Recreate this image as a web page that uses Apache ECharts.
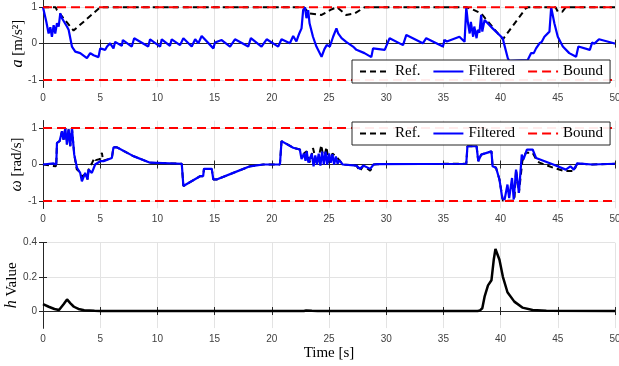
<!DOCTYPE html>
<html><head><meta charset="utf-8">
<script src="https://cdn.jsdelivr.net/npm/echarts@6/dist/echarts.min.js"></script>
<style>html,body{margin:0;padding:0;background:#fff}#c{width:619px;height:366px}</style>
</head><body><div id="c"></div>
<script>
// ---- data ----
const xTicks = [0,5,10,15,20,25,30,35,40,45,50];
const aTicks = [-1,0,1];
const wTicks = [-1,0,1];
const hTicks = [0,0.2,0.4];
const bounds = [1,-1];

const aFiltT = [0,0.29,0.49,0.64,0.78,0.93,1.07,1.22,1.37,1.51,1.66,2.09,2.24,2.53,2.82,3.25,3.84,3.98,4.13,4.42,4.85,5.0,5.44,5.6,5.73,5.87,6.16,6.31,6.89,6.98,7.76,7.97,9.2,9.36,10.24,10.38,11.1,11.25,11.98,12.27,13.0,13.3,13.58,13.87,14.89,15.03,15.2,15.62,16.35,16.78,17.94,18.17,19.1,19.55,20.56,20.85,21.58,21.87,22.15,22.4,22.6,22.74,22.9,23.03,23.18,23.3,23.6,23.9,24.35,24.6,24.8,25.07,25.36,25.65,25.8,25.94,26.1,26.5,27.1,27.4,27.55,28.1,28.7,28.85,29.87,30.3,31.47,31.76,33.2,33.5,34.96,35.1,35.3,36.4,36.85,37.0,37.15,37.3,37.4,37.6,37.7,37.9,38.0,38.15,38.3,38.4,38.6,39.3,40.19,40.3,40.63,40.75,42.37,42.67,42.9,43.1,43.25,43.4,43.6,43.83,44.0,44.27,44.42,44.7,45.0,45.44,46.0,46.6,46.8,47.8,48.0,48.2,48.6,49.9,50];
const aFiltV = [1.0,0.6,0.28,0.45,0.19,0.51,0.28,0.56,0.47,0.83,0.7,0.47,0.38,-0.08,-0.22,-0.26,-0.4,-0.44,-0.26,-0.32,-0.37,-0.13,-0.17,-0.08,-0.13,0.01,-0.13,0.05,-0.06,0.1,-0.08,0.15,-0.08,0.12,-0.08,0.12,-0.06,0.12,-0.04,0.15,-0.08,0.12,0.01,0.21,-0.13,0.03,-0.02,0.1,-0.08,0.12,-0.08,0.15,-0.08,0.12,-0.08,0.12,0.01,0.21,0.06,0.28,0.42,0.92,1.0,0.7,0.92,0.56,0.19,-0.08,-0.36,-0.15,-0.04,-0.08,0.19,0.42,0.28,0.33,0.15,0.05,-0.08,-0.17,-0.13,-0.26,-0.37,-0.13,-0.17,0.15,-0.04,0.24,0.01,0.15,-0.08,0.1,0.06,0.19,0.05,1.0,0.56,0.28,0.6,0.19,0.47,0.15,0.38,0.3,0.79,0.33,0.65,0.42,0.15,0.0,-0.4,-0.47,-0.45,-0.26,-0.26,-0.13,-0.16,0.01,0.05,0.19,0.19,0.33,1.0,0.56,0.19,-0.08,-0.26,-0.36,-0.08,-0.17,0.03,0.0,0.12,0.01,0.0];

const aRefT = [0,1.1,1.22,2.67,5.0,22.8,23.3,24.35,25.2,25.7,26.5,27.25,28.1,37.0,37.5,38.3,40.2,42.2,42.4,44.8,45.0,45.4,45.7,50];
const aRefV = [1,1,0.92,0.36,1.0,1.0,0.83,0.79,0.94,1.0,0.79,0.83,1.0,1.0,0.95,0.83,0.12,0.97,1.0,1.0,0.88,0.88,1.0,1.0];

const wFiltT = [0,0.93,1.16,1.22,1.45,1.66,1.8,1.95,2.09,2.24,2.38,2.53,2.73,2.97,3.25,3.4,3.69,3.9,3.98,4.27,4.56,5.0,5.29,6.02,6.16,6.45,7.9,9.36,12.13,12.27,13.73,14.0,14.07,14.75,14.89,15.18,16.63,18.09,19.25,20.71,20.85,21.87,22.45,22.6,22.8,22.95,23.05,23.2,23.35,23.5,23.65,23.8,23.95,24.1,24.25,24.4,24.55,24.7,24.85,25.0,25.15,25.3,25.45,25.6,25.75,25.9,26.2,27.4,27.7,28.0,28.6,28.9,29.2,37.0,37.1,37.9,38.05,38.3,39.2,39.3,39.6,39.9,40.15,40.35,40.6,40.75,41.0,41.15,41.35,41.6,41.85,42.0,42.3,42.8,43.1,44.6,45.7,46.1,46.4,46.7,48.0,50];
const wFiltV = [0,0.03,0,0.59,0.64,0.91,0.68,1.0,0.55,0.96,0.5,1.0,0.27,-0.09,-0.23,-0.46,-0.23,-0.41,-0.14,-0.23,0,0.09,0.09,0.18,0.47,0.47,0.23,0.05,0.02,-0.59,-0.32,-0.32,-0.12,-0.12,-0.41,-0.41,-0.23,-0.05,0,0,0.64,0.46,0.41,0.15,0.3,0.1,0.36,0.05,0.0,0.3,-0.05,0.25,0.0,0.3,-0.03,0.35,0.0,0.35,0.0,0.3,0.05,0.28,0.0,0.22,0.02,0.12,0.0,-0.03,-0.12,-0.03,-0.12,0.0,0.01,0.02,0.5,0.5,0.09,0.27,0.36,-0.05,-0.09,-0.41,-0.93,-0.96,-0.55,-0.92,-0.37,-0.96,-0.14,-0.78,0.27,0.14,0.41,0.41,0.18,0.0,-0.14,-0.05,-0.14,0.03,0.0,0.02];

const wRefT = [0,1.12,1.14,1.16,1.22,1.45,1.66,1.8,1.95,2.09,2.24,2.38,2.53,2.73,2.95,3.2,3.4,3.69,3.9,3.98,4.3,4.5,4.6,5.0,5.15,5.25,6.02,6.16,6.45,7.9,9.36,12.13,12.27,13.73,14.0,14.07,14.75,14.89,15.18,16.63,18.09,19.25,20.71,20.85,21.87,22.45,22.8,23.05,23.35,23.6,23.95,24.33,24.55,24.77,25.0,25.3,25.6,25.9,26.2,27.4,27.7,28.0,28.6,28.9,29.2,37.0,37.1,37.9,38.05,38.3,39.2,39.3,39.6,39.9,40.2,41.2,41.35,41.6,41.9,42.2,42.8,43.2,43.4,44.6,45.6,46.4,46.7,48.0,50];
const wRefV = [0,-0.05,0.06,0,0.59,0.64,0.91,0.68,1.0,0.55,0.96,0.5,1.0,0.27,-0.13,-0.2,-0.35,-0.23,-0.41,-0.14,0.05,0.18,0.12,0.15,0.32,0.1,0.18,0.47,0.47,0.23,0.05,0.02,-0.59,-0.32,-0.32,-0.12,-0.12,-0.41,-0.41,-0.23,-0.05,0,0,0.64,0.46,0.41,0.3,0.36,0.05,0.45,0.0,0.53,0.1,0.48,0.05,0.3,0.22,0.12,0.0,-0.03,-0.18,-0.03,-0.17,0.0,0.01,0.02,0.5,0.5,0.09,0.27,0.36,-0.05,-0.09,-0.41,-0.99,-0.99,-0.14,-0.78,0.09,0.32,0.32,0.09,0.05,-0.09,-0.18,-0.18,0.03,0.0,0.02];

const hT = [0,0.5,1.0,1.4,1.8,2.1,2.4,2.7,3.1,3.6,4.5,5.0,22.8,23.0,23.5,24.0,38.0,38.2,38.4,38.6,38.9,39.2,39.4,39.55,39.9,40.2,40.6,41.2,41.9,42.8,44.0,50];
const hV = [0.041,0.025,0.012,0.006,0.04,0.068,0.045,0.025,0.012,0.005,0.001,0,0,0.003,0.001,0,0,0.004,0.016,0.084,0.15,0.18,0.3,0.363,0.3,0.2,0.11,0.055,0.02,0.006,0.001,0];

// ---- helpers ----
const zip = (t, v) => t.map((x, i) => [x, v[i]]);
const SERIF = '"Liberation Serif","Times New Roman",serif';
const SANS = '"Liberation Sans",Arial,sans-serif';
const gBase = {left: 43, right: 4, containLabel: false, outerBoundsMode: 'none'};
const grids = [
  Object.assign({top: 0, height: 87.3}, gBase),
  Object.assign({top: 120.7, height: 87.6}, gBase),
  Object.assign({top: 242.7, height: 85.4}, gBase)
];
const axLine = {show: true, lineStyle: {color: '#262626', width: 1}};
const tick = {show: true, inside: true, length: 4, lineStyle: {color: '#262626'}};
const split = {show: true, lineStyle: {color: '#e3e3e3', width: 1}};
const lbl = {color: '#404040', fontFamily: SANS, fontSize: 10};

const xAxis = [], yAxis = [];
const yRanges = [[-1.2, 1.2, aTicks], [-1.2, 1.2, wTicks], [-0.1, 0.4, hTicks]];
const yNames = ['{i|a} [m/s²]', '{i|ω} [rad/s]', '{i|h} Value'];
const yNameGaps = [17, 18, 23];
for (let g = 0; g < 3; g++) {
  xAxis.push({type: 'value', gridIndex: g, min: 0, max: 50, interval: 5, position: 'bottom',
    axisLine: axLine, axisTick: tick, splitLine: split,
    axisLabel: Object.assign({margin: 6, formatter: v => String(v)}, lbl),
    name: g === 2 ? 'Time [s]' : '', nameLocation: 'middle', nameGap: 17, nameMoveOverlap: false,
    nameTextStyle: {fontFamily: SERIF, fontSize: 15, color: '#000'}});
  xAxis.push({type: 'value', gridIndex: g, min: 0, max: 50, interval: 5, position: 'top',
    axisLine: axLine, axisTick: tick, splitLine: {show: false}, axisLabel: {show: false}});
  const [mn, mx, tk] = yRanges[g];
  yAxis.push({type: 'value', gridIndex: g, min: mn, max: mx, position: 'left',
    axisLine: axLine, axisTick: Object.assign({customValues: tk}, tick), splitLine: split,
    axisLabel: Object.assign({customValues: tk, margin: 6, formatter: v => String(v)}, lbl),
    name: yNames[g], nameLocation: 'middle', nameGap: yNameGaps[g], nameMoveOverlap: false,
    nameTextStyle: {fontFamily: SERIF, fontSize: 15, color: '#000',
      rich: {i: {fontFamily: SERIF, fontSize: 16, fontStyle: 'italic', color: '#000'}}}});
  yAxis.push({type: 'value', gridIndex: g, min: mn, max: mx, position: 'right',
    axisLine: axLine, axisTick: Object.assign({customValues: tk}, tick),
    splitLine: {show: false}, axisLabel: {show: false}});
}

const series = [];
function addSet(g, refT, refV, filtT, filtV) {
  series.push({name: 'Ref.', type: 'line', xAxisIndex: 2*g, yAxisIndex: 2*g, data: zip(refT, refV),
    symbol: 'none', lineStyle: {color: '#000', width: 2, type: [6, 4]}, itemStyle: {color: '#000'}, z: 2, animation: false});
  series.push({name: 'Filtered', type: 'line', xAxisIndex: 2*g, yAxisIndex: 2*g, data: zip(filtT, filtV),
    symbol: 'none', lineStyle: {color: '#0000ff', width: 2.2}, itemStyle: {color: '#0000ff'}, z: 3, animation: false});
  bounds.forEach(b => series.push({name: 'Bound', type: 'line', xAxisIndex: 2*g, yAxisIndex: 2*g,
    data: [[0, b], [50, b]], symbol: 'none', lineStyle: {color: '#ff0000', width: 2, type: [9, 5]},
    itemStyle: {color: '#ff0000'}, z: 4, animation: false}));
}
addSet(0, aRefT, aRefV, aFiltT, aFiltV);
addSet(1, wRefT, wRefV, wFiltT, wFiltV);
series.push({name: 'h', type: 'line', xAxisIndex: 4, yAxisIndex: 4, data: zip(hT, hV),
  symbol: 'none', lineStyle: {color: '#000', width: 2.5}, animation: false});

const legendBase = {data: ['Ref.', 'Filtered', 'Bound'], orient: 'horizontal', left: 352,
  itemWidth: 30, itemHeight: 10, itemGap: 12, padding: [4, 7],
  itemStyle: {opacity: 0}, z: 20, zlevel: 0,
  backgroundColor: 'rgba(255,255,255,0.92)', borderColor: '#262626', borderWidth: 1, borderRadius: 0,
  textStyle: {fontFamily: SERIF, fontSize: 15, color: '#000'}, selectedMode: false};
const chart = echarts.init(document.getElementById('c'), null, {renderer: 'canvas'});
chart.setOption({
  animation: false,
  grid: grids,
  xAxis, yAxis, series,
  legend: [Object.assign({top: 60}, legendBase), Object.assign({top: 122}, legendBase)]
});
</script></body></html>
